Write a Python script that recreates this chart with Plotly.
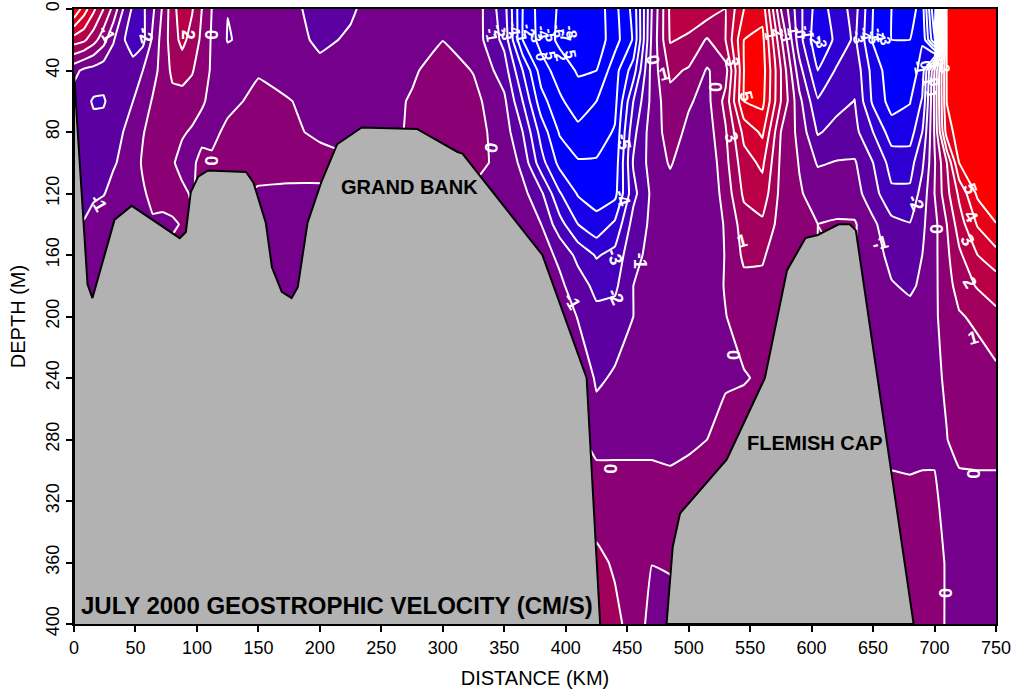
import plotly.graph_objects as go

distance_km = [0,8,16,24,32,40,48,56,64,72,80,88,96,104,112,125,150,175,200,225,250,275,300,325,350,365,380,395,410,425,
               440,455,470,485,500,515,530,545,560,575,590,605,620,635,650,665,680,690,700,710,720,735,750]
depth_m = [0,20,40,60,80,100,120,140,160,180,200,240,280,320,360,400]

v_d0 = [6.0,4.5,3.2,2.0,0.7,-1.0,-2.2,-2.2,-1.2,0.1,
        1.6,2.6,2.1,1.0,0.0,-0.98,-0.6,-0.7,-1.4,-1.1,
        -0.6,-0.4,-0.2,-0.3,-2.6,-6.0,-7.5,-8.1,-8.7,-8.6,
        -7.3,-5.7,-1.0,2.2,2.7,2.6,2.0,4.0,4.6,0.0,
        -2.7,-4.5,-3.6,-2.6,-5.0,-6.0,-6.5,-5.5,-10.0,5.3,
        8,9,9]
v_d20 = [2.5,2.2,1.4,0.4,-0.9,-1.9,-2.5,-2.3,-0.8,0.4,
         1.5,2.3,1.6,0.8,-0.1,-1.05,-0.7,-0.7,-1.15,-0.9,
         -0.5,-0.3,-0.02,-0.4,-2.3,-6.0,-7.4,-8.2,-8.7,-8.6,
         -7.4,-5.9,-0.8,2.1,1.8,0.9,2.0,5.0,5.3,1.2,
         -2.6,-4.8,-3.8,-2.8,-5.1,-6.0,-6.0,-5.1,-9.0,5.2,
         8,9,9]
v_d40 = [-0.7,-1.2,-1.4,-1.6,-1.7,-1.5,-1.6,-1.0,-0.4,0.4,
         1.2,1.4,1.1,0.4,-0.1,-0.5,-0.1,-0.5,-0.8,-0.6,
         -0.5,-0.15,0.5,-0.05,-1.5,-4.0,-6.5,-7.5,-8.1,-8.0,
         -6.4,-4.5,-0.6,1.2,0.9,-0.1,0.6,5.0,5.5,2.0,
         -1.6,-4.0,-2.9,-2.3,-4.4,-5.6,-5.6,-4.6,0.0,5.1,
         8.0,9.0,9.0]
v_d60 = [-1.5,-1.7,-2.1,-2.1,-1.6,-1.2,-1.0,-0.6,0.1,0.5,
         0.7,0.6,0.4,0.1,-0.2,-0.3,0.3,0.05,-0.4,-0.4,
         -0.4,0.1,0.6,0.3,-0.8,-3.0,-5.6,-6.8,-7.6,-7.0,
         -6.3,-3.0,-0.7,0.7,0.1,-0.3,1.3,5.0,5.3,2.0,
         -0.7,-2.9,-2.3,-1.98,-4.2,-5.4,-5.05,-3.9,0.2,5.05,
         7.5,9.0,9.0]
v_d80 = [-1.5,-1.6,-1.7,-1.6,-1.4,-1.0,-0.6,-0.05,0.3,0.45,
         0.3,0.1,-0.1,-0.3,-0.3,0.25,0.6,0.3,-0.3,-0.5,
         -0.5,0.2,0.6,0.4,-0.5,-2.0,-4.4,-6.1,-6.7,-6.5,
         -5.9,-2.3,-0.5,0.4,-0.2,-0.5,0.9,3.3,4.2,1.0,
         -0.3,-2.1,-1.7,-1.7,-3.0,-4.5,-4.5,-3.0,0.1,4.5,
         5.5,8.0,9.0]
v_d100 = [-1.4,-1.4,-1.4,-1.3,-1.1,-0.8,-0.4,0.1,0.4,0.3,
          0.1,-0.3,-0.2,0.3,0.2,0.5,0.6,0.6,0.6,0.2,
          0.3,0.4,0.5,0.2,-0.2,-1.3,-3.6,-5.3,-5.9,-5.9,
          -5.6,-1.9,-0.6,0.1,-0.6,-0.8,0.7,2.6,3.2,0.8,
          -0.05,-1.1,-0.95,-0.9,-2.0,-3.4,-3.4,-2.2,-0.1,2.0,
          5.0,7.0,8.0]
v_d120 = [-1.3,-1.3,-1.2,-1.05,-0.7,-0.4,-0.2,-0.1,0.2,0.3,
          0.3,0.2,-0.1,0.3,0.3,0.3,-0.2,-0.3,-0.3,0.3,
          0.3,0.3,0.3,-0.1,-0.4,-0.7,-1.8,-3.9,-5.1,-5.4,
          -5.3,-2.3,-0.8,-0.4,-0.7,-0.8,0.4,2.2,2.6,0.7,
          0.1,-0.4,-0.5,-0.6,-1.6,-2.8,-2.8,-1.6,0.0,1.7,
          3.2,5.2,7.0]
v_d140 = [-1.0,-0.95,-0.5,-0.4,-0.3,-0.2,-0.2,-0.2,-0.1,-0.2,
          -0.1,0.05,0.1,0.3,0.3,0.3,-0.4,-0.5,-0.5,0.3,
          0.3,0.3,0.3,0.3,0.3,-0.5,-1.0,-2.6,-4.0,-4.7,
          -3.8,-1.6,-0.8,-0.5,-0.7,-0.7,0.1,1.5,1.8,0.6,
          0.2,0.0,0.1,0.1,-0.8,-1.7,-1.95,-1.2,-0.3,1.0,
          2.5,4.1,4.9]
v_d160 = [-0.6,-0.5,-0.5,-0.4,0.2,0.2,0.2,0.2,0.2,0.2,
          0.2,0.2,0.2,0.3,0.3,0.3,-0.5,-0.6,-0.5,0.3,
          0.3,0.3,0.3,0.3,0.3,0.3,-0.6,-1.2,-2.3,-3.1,
          -2.7,-1.2,-0.8,-0.6,-0.6,-0.7,0.05,1.2,1.15,0.3,
          0.2,0.0,0.0,0.0,-0.7,-1.2,-1.5,-1.0,-0.25,0.8,
          1.8,3.0,3.7]
v_d180 = [-0.5,-0.5,-0.5,-0.4,0.2,0.2,0.2,0.2,0.2,0.2,
          0.2,0.2,0.2,0.3,0.3,0.3,-0.5,-0.6,-0.5,0.3,
          0.3,0.3,0.3,0.3,0.3,0.3,0.3,-0.8,-1.5,-2.3,
          -2.2,-1.0,-0.7,-0.6,-0.5,-0.4,0.05,0.7,0.7,0.2,
          0.2,0.1,0.1,0.1,-0.7,-0.95,-1.1,-0.9,-0.2,0.6,
          1.4,2.1,2.4]
v_d200 = [0.2,0.2,0.2,0.2,0.2,0.2,0.2,0.2,0.2,0.2,
          0.2,0.2,0.2,0.2,0.2,0.2,0.2,0.2,0.2,0.2,
          0.2,0.2,0.2,0.2,0.2,0.2,0.2,0.2,-1.1,-1.7,
          -1.6,-1.0,-0.6,-0.5,-0.4,-0.3,-0.02,0.3,0.3,0.2,
          0.2,0.2,0.2,0.2,-0.6,-0.8,-0.8,-0.6,-0.15,0.4,
          0.9,1.2,1.8]
v_d240 = [0.2,0.2,0.2,0.2,0.2,0.2,0.2,0.2,0.2,0.2,
          0.2,0.2,0.2,0.2,0.2,0.2,0.2,0.2,0.2,0.2,
          0.2,0.2,0.2,0.2,0.2,0.2,0.2,0.2,0.2,-1.2,
          -0.85,-0.6,-0.5,-0.4,-0.3,-0.2,-0.1,-0.05,0.1,0.2,
          0.2,0.2,0.2,0.2,-0.5,-0.5,-0.5,-0.4,-0.15,0.1,
          0.3,0.5,0.7]
v_d280 = [0.2,0.2,0.2,0.2,0.2,0.2,0.2,0.2,0.2,0.2,
          0.2,0.2,0.2,0.2,0.2,0.2,0.2,0.2,0.2,0.2,
          0.2,0.2,0.2,0.2,0.2,0.2,0.2,0.2,0.2,-0.3,
          -0.3,-0.3,-0.3,-0.3,-0.2,0.0,0.3,0.4,0.3,0.2,
          0.2,0.2,0.2,0.2,-0.3,-0.3,-0.4,-0.3,-0.15,-0.02,
          0.3,0.3,0.3]
v_d320 = [0.2,0.2,0.2,0.2,0.2,0.2,0.2,0.2,0.2,0.2,
          0.2,0.2,0.2,0.2,0.2,0.2,0.2,0.2,0.2,0.2,
          0.2,0.2,0.2,0.2,0.2,0.2,0.2,0.2,0.2,0.6,
          0.6,0.6,0.6,0.4,0.6,0.6,0.5,0.5,0.3,0.2,
          0.2,0.2,0.2,0.2,0.3,0.3,0.3,0.3,0.15,-0.3,
          -0.35,-0.3,-0.3]
v_d360 = [0.2,0.2,0.2,0.2,0.2,0.2,0.2,0.2,0.2,0.2,
          0.2,0.2,0.2,0.2,0.2,0.2,0.2,0.2,0.2,0.2,
          0.2,0.2,0.2,0.2,0.2,0.2,0.2,0.2,0.2,1.2,
          0.9,0.3,0.02,0.1,0.5,0.5,0.5,0.3,0.2,0.2,
          0.2,0.2,0.2,0.2,0.3,0.3,0.3,0.3,0.2,-0.05,
          -0.4,-0.4,-0.4]
v_d400 = [0.2,0.2,0.2,0.2,0.2,0.2,0.2,0.2,0.2,0.2,
          0.2,0.2,0.2,0.2,0.2,0.2,0.2,0.2,0.2,0.2,
          0.2,0.2,0.2,0.2,0.2,0.2,0.2,0.2,0.2,1.6,
          1.2,0.7,-0.4,-0.4,0.5,0.5,0.5,0.3,0.2,0.2,
          0.2,0.2,0.2,0.2,0.3,0.3,0.3,0.3,0.2,-0.05,
          -0.4,-0.4,-0.4]
velocity = [v_d0,v_d20,v_d40,v_d60,v_d80,v_d100,v_d120,v_d140,v_d160,v_d180,v_d200,v_d240,v_d280,v_d320,v_d360,v_d400]

bank_x = [0,0,11,15,33,47,86,91,95,101,109,140,146,156,161,169,177,182,190,201,214,234,279,312,316,381,417,428,428]
bank_y = [400,42,179,188,137,128,149,145,119,109,105,106,113,139,168,184,188,181,139,113,88,77,78,93,94,160,240,400,400]
cap_x = [482,487,493,531,562,580,595,605,622,631,636,683,482]
cap_y = [400,350,328,293,240,170,149,147,140,140,144,400,400]

label_x = [20,58,27,93,111,111,339,405,441,440,460,446,447,471,480,521,535,547,535,543,656,685,701,729,730,727,729,436,731,708,536,731]
label_y = [126,17,16,17,17,99,90,190,187,161,164,123,86,33,42,51,34,57,83,151,152,126,143,117,135,150,178,299,302,380,225,214]
label_t = ["-1","-2","-1","2","0","0","0","-1","-2","-3","-1","-4","-5","0","1","0","3","5","3","1","-1","-2","0","5","4","3","2","0","0","0","0","1"]
label_a = [60,75,60,90,90,90,100,60,65,70,90,70,80,80,-15,90,90,75,70,-15,-15,65,90,70,60,60,60,90,90,90,90,-15]

crowd_x = [340,346,352,358,364,370,376,382,388,394,400,405,380,388,396,404,
           567,573,579,585,591,597,603,608,638,644,650,656,660,688,693,698,703,708,695,700,698]
crowd_y = [17,14,16,13,17,14,17,15,17,14,17,15,31,30,31,29,
           17,15,18,14,16,15,19,21,18,16,18,17,19,38,36,37,35,39,47,47,55]
crowd_t = ["-1","-2","-3","-4","-1","-2","-3","-4","-5","-6","-7","-8","0","5","2","5",
           "1","2","3","1","0","-1","-2","-3","-3","-4","-5","-4","-3","-1","0","1","2","3","1","0","1"]

fig = go.Figure()
fig.add_trace(go.Contour(x=distance_km, y=depth_m, z=velocity, showscale=False, hoverinfo="skip",
                         colorscale=[[0, "#0000ff"], [1, "#ff0000"]],
                         contours=dict(coloring="fill", start=-5, end=5, size=1),
                         line=dict(width=0, smoothing=0.2)))
fig.add_trace(go.Contour(x=distance_km, y=depth_m, z=velocity, showscale=False, hoverinfo="skip",
                         contours=dict(coloring="none", start=-10, end=5, size=1),
                         line=dict(color="white", width=2, smoothing=0.2)))
for xs, ys in ((bank_x, bank_y), (cap_x, cap_y)):
    fig.add_trace(go.Scatter(x=xs, y=ys, mode="lines", fill="toself", fillcolor="#b2b2b2",
                             line=dict(color="black", width=2), hoverinfo="skip", showlegend=False))

anns = []
for x, y, t, a in zip(label_x, label_y, label_t, label_a):
    anns.append(dict(x=x, y=y, text=f"<b>{t}</b>", textangle=a, showarrow=False,
                     font=dict(family="Liberation Sans", size=18, color="white")))
for x, y, t in zip(crowd_x, crowd_y, crowd_t):
    anns.append(dict(x=x, y=y, text=f"<b>{t}</b>", textangle=80, showarrow=False,
                     font=dict(family="Liberation Sans", size=15, color="white")))
for x, y, t, s in ((273, 116, "GRAND BANK", 20), (603, 282, "FLEMISH CAP", 20),
                   (214, 388, "JULY 2000 GEOSTROPHIC VELOCITY (CM/S)", 24)):
    anns.append(dict(x=x, y=y, text=f"<b>{t}</b>", showarrow=False,
                     font=dict(family="Liberation Sans", size=s, color="black")))

axis = dict(showgrid=False, zeroline=False, showline=True, mirror=True, linecolor="black", linewidth=2,
            ticks="outside", ticklen=6, tickwidth=2, tickcolor="black", automargin=False,
            tickfont=dict(family="Liberation Sans", size=18, color="black"))
fig.update_layout(width=1018, height=694, autosize=False, showlegend=False, paper_bgcolor="white",
                  plot_bgcolor="white", margin=dict(l=74, r=22, t=9, b=70), annotations=anns,
                  font=dict(family="Liberation Sans"),
                  xaxis=dict(axis, range=[0, 750], tick0=0, dtick=50, layer="above traces",
                             title=dict(text="DISTANCE (KM)", standoff=14,
                                        font=dict(family="Liberation Sans", size=20, color="black"))),
                  yaxis=dict(axis, range=[400, 0], tick0=0, dtick=40, tickangle=-90, layer="above traces",
                             title=dict(text="DEPTH (M)", standoff=12,
                                        font=dict(family="Liberation Sans", size=20, color="black"))))
fig.write_html("out.html", config=dict(displayModeBar=False),
               post_script="document.body.style.margin='0';document.body.style.overflow='hidden';")
